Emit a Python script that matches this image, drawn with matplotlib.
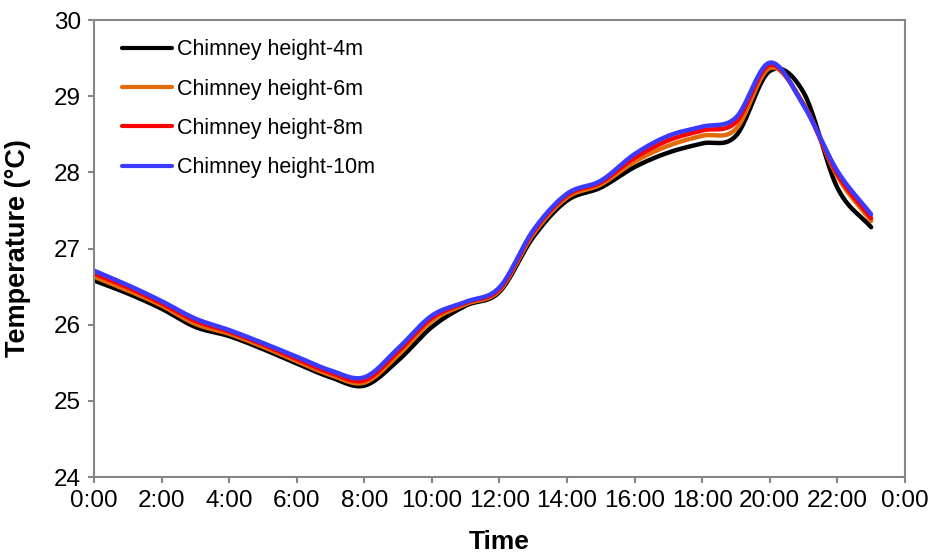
import matplotlib
matplotlib.use("Agg")
import matplotlib.pyplot as plt
import numpy as np

# =========================
# Data (hourly temperature, degC)
# =========================

hours = list(range(24))

t_4m = [26.58, 26.41, 26.21, 25.97, 25.85, 25.68, 25.49, 25.31, 25.20, 25.53,
        25.97, 26.25, 26.43, 27.15, 27.63, 27.80, 28.07, 28.26, 28.38, 28.48,
        29.33, 29.05, 27.80, 27.28]
t_6m = [26.63, 26.45, 26.25, 26.01, 25.88, 25.71, 25.52, 25.34, 25.24, 25.60,
        26.05, 26.27, 26.45, 27.19, 27.67, 27.84, 28.14, 28.35, 28.48, 28.57,
        29.37, 28.90, 27.95, 27.36]
t_8m = [26.67, 26.49, 26.28, 26.05, 25.91, 25.74, 25.55, 25.37, 25.27, 25.65,
        26.09, 26.29, 26.47, 27.22, 27.70, 27.87, 28.19, 28.42, 28.55, 28.66,
        29.41, 28.89, 27.98, 27.40]
t_10m = [26.71, 26.52, 26.31, 26.08, 25.93, 25.76, 25.58, 25.40, 25.31, 25.69,
         26.12, 26.30, 26.49, 27.24, 27.72, 27.89, 28.24, 28.48, 28.60, 28.72,
         29.44, 28.88, 28.02, 27.45]

labels = ["Chimney height-4m", "Chimney height-6m",
          "Chimney height-8m", "Chimney height-10m"]
colors = ["#000000", "#E36C0A", "#FF0000", "#3B3BFF"]

tick_hours = list(range(0, 25, 2))
tick_labels = ["%d:00" % (h % 24) for h in tick_hours]


# smoothed line like a spreadsheet "smooth line" (Catmull-Rom through points)
def smooth(x, y, n=20):
    x = np.asarray(x, float)
    y = np.asarray(y, float)
    px = np.concatenate([[2 * x[0] - x[1]], x, [2 * x[-1] - x[-2]]])
    py = np.concatenate([[2 * y[0] - y[1]], y, [2 * y[-1] - y[-2]]])
    xs, ys = [], []
    t = np.linspace(0, 1, n, endpoint=False)
    for i in range(1, len(px) - 2):
        for p, out in ((px, xs), (py, ys)):
            p0, p1, p2, p3 = p[i - 1], p[i], p[i + 1], p[i + 2]
            out.append(0.5 * ((2 * p1) + (-p0 + p2) * t
                              + (2 * p0 - 5 * p1 + 4 * p2 - p3) * t ** 2
                              + (-p0 + 3 * p1 - 3 * p2 + p3) * t ** 3))
    xs.append([x[-1]])
    ys.append([y[-1]])
    return np.concatenate(xs), np.concatenate(ys)


# =========================
# Plot
# =========================

plt.rcParams['font.family'] = ['Liberation Sans', 'DejaVu Sans']

fig = plt.figure(figsize=(9.32, 5.56), dpi=100)
ax = fig.add_axes([0.1009, 0.142, 0.870, 0.822])

for series, color, label in zip([t_4m, t_6m, t_8m, t_10m], colors, labels):
    sx, sy = smooth(hours, series)
    ax.plot(sx, sy, color=color, linewidth=3.2, label=label,
            solid_capstyle='round')

ax.set_xlim(0, 24)
ax.set_ylim(24, 30)
ax.set_xticks(tick_hours)
ax.set_xticklabels(tick_labels)
ax.set_yticks(range(24, 31))

gray = "#868686"
for side in ax.spines.values():
    side.set_color(gray)
    side.set_linewidth(1.5)

ax.tick_params(direction='out', length=4.5, width=1.5, color=gray,
               labelsize=17.5, pad=5)

ax.set_xlabel("Time", fontsize=19, fontweight='bold')
ax.set_ylabel("Temperature (°C)", fontsize=19.5, fontweight='bold')
ax.xaxis.set_label_coords(0.5, -0.115)
ax.yaxis.set_label_coords(-0.078, 0.5)

leg = ax.legend(loc='upper left', bbox_to_anchor=(0.01, 1.0), frameon=False,
                fontsize=15.5, handlelength=2.35, handletextpad=0.22,
                labelspacing=0.85)
for line in leg.get_lines():
    line.set_linewidth(3)

fig.savefig("out.png", dpi=100)
